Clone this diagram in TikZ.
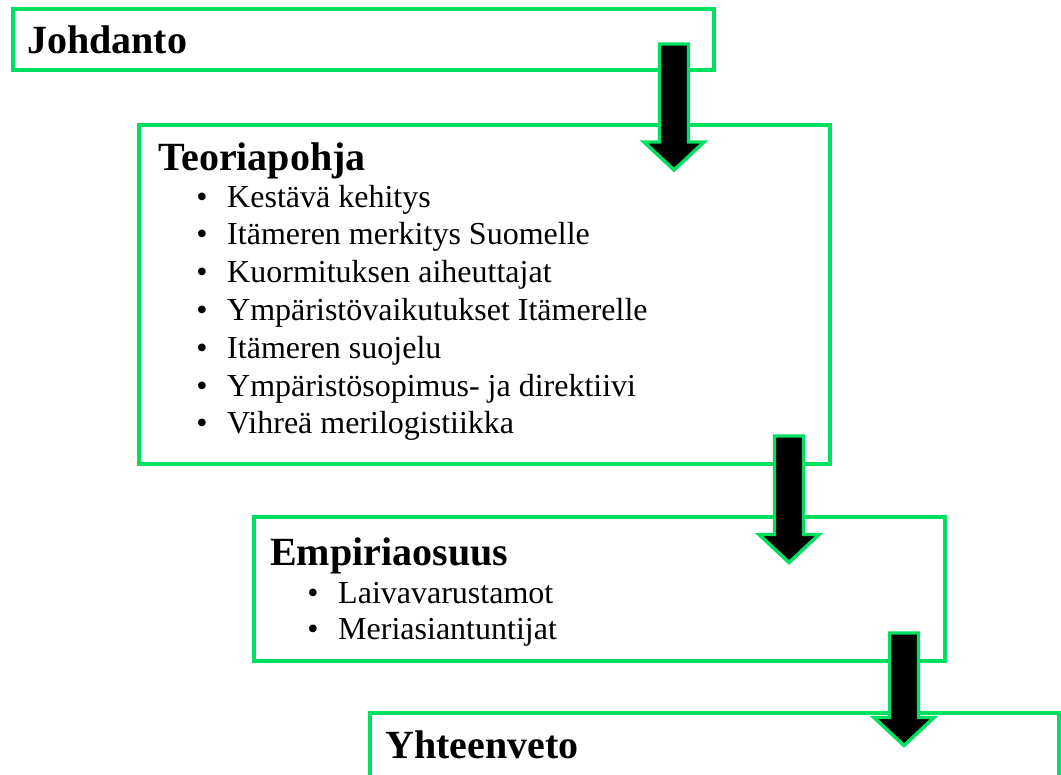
\documentclass[tikz,border=0pt]{standalone}
\usepackage{fontspec}
\setmainfont{Liberation Serif}
\usetikzlibrary{calc,fit}
\definecolor{boxgreen}{RGB}{0,224,96}

\begin{document}
\begin{tikzpicture}[
        x=0.75pt, y=-0.75pt,
        stagebox/.style={draw=boxgreen, line width=3pt, inner sep=0pt, outer sep=0pt},
        headtext/.style={anchor=base west, inner sep=0pt, font=\fontsize{30}{36}\selectfont\bfseries},
        itemtext/.style={anchor=base west, inner sep=0pt, font=\fontsize{24}{28}\selectfont},
        bigarrow/.style={draw=boxgreen, fill=black, line width=2.6pt, line join=miter,
            to path={($(\tikztostart)+(-14.5,0)$) -- ($(\tikztotarget)+(-14.5,-28)$)
                -- ($(\tikztotarget)+(-30,-28)$) -- (\tikztotarget) -- ($(\tikztotarget)+(30,-28)$)
                -- ($(\tikztotarget)+(14.5,-28)$) -- ($(\tikztostart)+(14.5,0)$) -- cycle}}
    ]
\clip (0,0) rectangle (1061,775);

% the four stages
\node[stagebox, fit={(13,9) (714,70)}] (johdanto) {};
\node[stagebox, fit={(139,125) (830,464)}] (teoria) {};
\node[stagebox, fit={(254,517) (945,661)}] (empiria) {};
\node[stagebox, fit={(370,713) (1059,820)}] (yhteenveto) {};

\node[headtext] (johdanto-h) at ($(johdanto.north west)+(14,44)$) {Johdanto};
\node[headtext] (teoria-h) at ($(teoria.north west)+(19,45)$) {Teoriapohja};
\node[headtext] (empiria-h) at ($(empiria.north west)+(16,48)$) {Empiriaosuus};
\node[headtext] (yhteenveto-h) at ($(yhteenveto.north west)+(15,45)$) {Yhteenveto};

\foreach \txt [count=\i] in {Kestävä kehitys, Itämeren merkitys Suomelle,
        Kuormituksen aiheuttajat, Ympäristövaikutukset Itämerelle, Itämeren suojelu,
        Ympäristösopimus- ja direktiivi, Vihreä merilogistiikka}
    \node[itemtext] (teoria-\i) at ($(teoria.north west)+(57,{82+37.8*(\i-1)})$)
        {\makebox[23.25pt][l]{\textbullet}\txt};

\foreach \txt [count=\i] in {Laivavarustamot, Meriasiantuntijat}
    \node[itemtext] (empiria-\i) at ($(empiria.north west)+(53,{86+36.5*(\i-1)})$)
        {\makebox[23.25pt][l]{\textbullet}\txt};

% arrows between the stages
\coordinate (a1) at ($(johdanto.south east)+(-40,-26)$);
\coordinate (b1) at ($(a1 |- teoria.north)+(0,45)$);
\coordinate (a2) at ($(teoria.south east)+(-41,-28)$);
\coordinate (b2) at ($(a2 |- empiria.north)+(0,45.5)$);
\coordinate (a3) at ($(empiria.south east)+(-41,-28)$);
\coordinate (b3) at ($(a3 |- yhteenveto.north)+(0,32.5)$);

\draw[bigarrow] (a1) to (b1);
\draw[bigarrow] (a2) to (b2);
\draw[bigarrow] (a3) to (b3);

\end{tikzpicture}
\end{document}
